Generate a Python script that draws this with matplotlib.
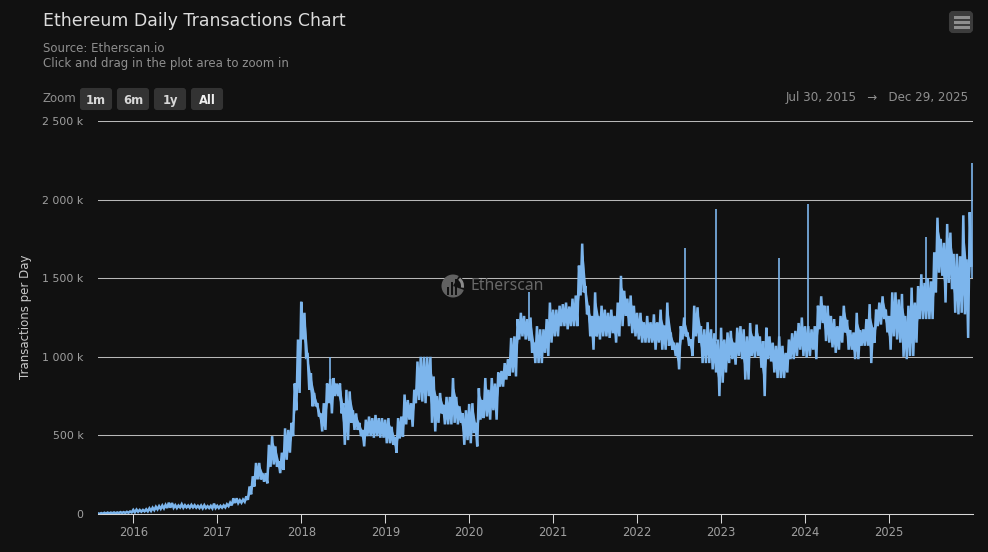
import numpy as np
import matplotlib
matplotlib.use("Agg")
import matplotlib.pyplot as plt
from matplotlib.patches import FancyBboxPatch, Circle, Wedge, Rectangle

# -- values, thousands of tx per day, low/high per fortnight --
lo_2015 = [1, 2, 3, 4, 5, 5, 6, 7, 7, 8, 10]
hi_2015 = [4, 6, 8, 9, 9, 10, 10, 12, 12, 14, 16]
lo_2016 = [11, 14, 15, 17, 17, 20, 25, 30, 33, 36, 38, 40, 40, 38, 42, 40, 42, 40, 42, 40, 38, 36, 38, 38, 36, 38]
hi_2016 = [26, 28, 26, 26, 30, 36, 40, 46, 50, 54, 58, 72, 70, 56, 54, 62, 56, 54, 58, 56, 52, 54, 56, 50, 52, 66]
lo_2017 = [38, 40, 42, 50, 55, 70, 70, 72, 78, 90, 125, 175, 220, 220, 205, 195, 300, 315, 300, 260, 280, 345, 390, 495, 660, 770]
hi_2017 = [52, 52, 55, 62, 72, 100, 100, 88, 92, 112, 175, 240, 325, 325, 260, 260, 440, 495, 430, 335, 390, 545, 535, 580, 830, 1110]
lo_2018 = [1110, 1000, 790, 685, 685, 620, 525, 535, 705, 640, 750, 750, 640, 440, 470, 580, 535, 535, 495, 430, 495, 495, 485, 495, 485, 485]
hi_2018 = [1350, 1280, 1010, 895, 770, 705, 640, 705, 830, 860, 865, 830, 830, 705, 790, 780, 660, 640, 580, 535, 600, 620, 610, 630, 610, 610]
lo_2019 = [450, 450, 440, 390, 480, 490, 570, 600, 555, 705, 725, 715, 705, 750, 580, 525, 580, 640, 570, 570, 570, 580, 570, 580, 440, 470]
hi_2019 = [600, 610, 555, 490, 610, 620, 760, 725, 705, 790, 970, 1000, 1000, 1000, 1000, 875, 750, 770, 695, 745, 745, 865, 745, 685, 640, 660]
lo_2020 = [450, 515, 430, 600, 610, 620, 600, 660, 600, 810, 810, 855, 880, 900, 875, 1110, 1130, 1110, 1110, 1025, 960, 960, 960, 1025, 1005, 1090]
hi_2020 = [700, 705, 580, 800, 725, 865, 790, 865, 830, 900, 910, 960, 985, 1120, 1130, 1240, 1280, 1260, 1240, 1250, 1090, 1195, 1175, 1175, 1240, 1345]
lo_2021 = [1130, 1130, 1195, 1195, 1175, 1195, 1195, 1195, 1390, 1410, 1270, 1130, 1045, 1130, 1110, 1130, 1130, 1120, 1150, 1090, 1130, 1195, 1260, 1195, 1150, 1130]
hi_2021 = [1300, 1300, 1325, 1335, 1345, 1320, 1370, 1390, 1580, 1720, 1450, 1325, 1260, 1410, 1260, 1325, 1300, 1280, 1300, 1260, 1345, 1515, 1420, 1370, 1390, 1325]
lo_2022 = [1110, 1090, 1090, 1090, 1090, 1045, 1090, 1045, 1045, 1070, 1045, 1005, 920, 1110, 1130, 1070, 1005, 1130, 1090, 960, 960, 960, 920, 900, 750]
hi_2022 = [1280, 1280, 1220, 1260, 1220, 1270, 1220, 1300, 1200, 1345, 1155, 1090, 1090, 1195, 1250, 1155, 1110, 1325, 1315, 1195, 1175, 1220, 1175, 1150, 1110]
lo_2023 = [835, 900, 960, 985, 950, 1005, 985, 855, 855, 1005, 995, 1005, 930, 750, 985, 970, 900, 865, 865, 865, 900, 985, 985, 1005, 1045, 1005]
hi_2023 = [1185, 1110, 1155, 1165, 1090, 1185, 1195, 1175, 1130, 1215, 1130, 1205, 1130, 1100, 1185, 1130, 1090, 1070, 1130, 1070, 1025, 1110, 1150, 1165, 1215, 1250]
lo_2024 = [995, 1005, 1045, 985, 1175, 1215, 1100, 1090, 1060, 1025, 1045, 1090, 1155, 1045, 1045, 985, 985, 1070, 1070, 1070, 960, 1090, 1195, 1205, 1240, 1155]
hi_2024 = [1195, 1195, 1175, 1195, 1325, 1385, 1325, 1325, 1260, 1240, 1195, 1260, 1325, 1235, 1170, 1155, 1280, 1170, 1175, 1240, 1335, 1185, 1300, 1345, 1385, 1300]
lo_2025 = [1045, 1130, 1110, 1090, 1000, 985, 1005, 1005, 1090, 1240, 1240, 1240, 1240, 1240, 1410, 1535, 1515, 1345, 1470, 1430, 1280, 1270, 1280, 1270, 1120, 1580]
hi_2025 = [1260, 1410, 1410, 1365, 1400, 1260, 1325, 1440, 1345, 1450, 1525, 1470, 1500, 1480, 1665, 1885, 1750, 1725, 1845, 1790, 1655, 1655, 1640, 1900, 1620, 1920]

low_years = [lo_2015, lo_2016, lo_2017, lo_2018, lo_2019, lo_2020, lo_2021, lo_2022, lo_2023, lo_2024, lo_2025]
high_years = [hi_2015, hi_2016, hi_2017, hi_2018, hi_2019, hi_2020, hi_2021, hi_2022, hi_2023, hi_2024, hi_2025]
first_years = [2015.58, 2016, 2017, 2018, 2019, 2020, 2021, 2022, 2023, 2024, 2025]
last_years = [2016, 2017, 2018, 2019, 2020, 2021, 2022, 2023, 2024, 2025, 2026]

# the one day outliers, drawn on top
spike_years = [2018.34, 2020.71, 2022.57, 2022.94, 2023.69, 2024.03, 2025.44, 2025.985]
spike_bases = [800, 1100, 1200, 1100, 1000, 1100, 1300, 1500]
spike_values = [1000, 1410, 1690, 1940, 1630, 1970, 1760, 2230]

year_ticks = [2016, 2017, 2018, 2019, 2020, 2021, 2022, 2023, 2024, 2025]
y_ticks = [0, 500, 1000, 1500, 2000, 2500]
y_labels = ["0", "500 k", "1 000 k", "1 500 k", "2 000 k", "2 500 k"]
zoom_buttons = ["1m", "6m", "1y", "All"]

BG = "#111111"
LINE = "#7cb5ec"
GRID = "#b8b8b8"
W, H = 988, 552


def zigzag():
    # walk low, high, low, high so the daily noise fills in like the original
    xs, ys = [], []
    band_x, band_lo, band_hi = [], [], []
    for lows, highs, start, end in zip(low_years, high_years, first_years, last_years):
        step = (end - start) / len(lows)
        for i, (lo, hi) in enumerate(zip(lows, highs)):
            xs += [start + i * step, start + (i + 0.5) * step]
            ys += [hi, lo]
            band_x.append(start + (i + 0.25) * step)
            band_lo.append(lo + 0.22 * (hi - lo))
            band_hi.append(hi - 0.22 * (hi - lo))
    return xs, ys, band_x, band_lo, band_hi


def main():
    plt.rcParams["font.family"] = ["DejaVu Sans"]
    fig = plt.figure(figsize=(W / 100, H / 100), dpi=100, facecolor=BG)

    # -- plot area --
    ax = fig.add_axes([98 / W, (H - 514) / H, 875 / W, 393 / H], facecolor=BG)
    xs, ys, band_x, band_lo, band_hi = zigzag()
    ax.fill_between(band_x, band_lo, band_hi, color=LINE, lw=0, zorder=3)
    ax.plot(xs, ys, color=LINE, lw=1.8, solid_joinstyle="miter", zorder=3)
    ax.vlines(spike_years, spike_bases, spike_values, color=LINE, lw=1.2, zorder=3)
    ax.set_xlim(2015.58, 2026.0)
    ax.set_ylim(0, 2500)
    ax.set_yticks(y_ticks)
    ax.set_yticklabels(y_labels)
    ax.set_xticks(year_ticks)
    ax.set_xticklabels([str(y) for y in year_ticks])
    ax.grid(axis="y", color=GRID, lw=0.75)
    ax.set_axisbelow(True)
    for side in ["top", "left", "right"]:
        ax.spines[side].set_visible(False)
    ax.spines["bottom"].set_color("#d8d8d8")
    ax.spines["bottom"].set_linewidth(0.75)
    ax.tick_params(axis="x", length=6.5, width=0.75, color="#d8d8d8", labelcolor="#a0a0a0", labelsize=8.3, pad=2.5)
    ax.tick_params(axis="y", length=0, labelcolor="#a0a0a0", labelsize=7.9, pad=10.5)

    # -- page furniture in pixel coordinates --
    over = fig.add_axes([0, 0, 1, 1], facecolor="none")
    over.set_xlim(0, W)
    over.set_ylim(H, 0)
    over.axis("off")

    over.text(43, 21, "Ethereum Daily Transactions Chart", color="#dcdcdc", fontsize=12.55, va="center")
    over.text(43, 48.5, "Source: Etherscan.io", color="#8f8f8f", fontsize=8.45, va="center")
    over.text(43, 63.5, "Click and drag in the plot area to zoom in", color="#8f8f8f", fontsize=8.45, va="center")
    over.text(42, 99, "Zoom", color="#8f8f8f", fontsize=8.45, va="center")
    over.text(25, 317, "Transactions per Day", color="#c8c8c8", fontsize=8.5, rotation=90, ha="center", va="center")
    over.text(969, 98, "Jul 30, 2015   \u2192   Dec 29, 2025", color="#8f8f8f", fontsize=8.6, ha="right", va="center")

    left_edges = [80, 117, 154, 191]
    widths = [32, 32, 32, 32]
    for label, left, width in zip(zoom_buttons, left_edges, widths):
        over.add_patch(FancyBboxPatch((left + 1, 89), width - 2, 20, boxstyle="round,pad=0,rounding_size=2",
                                      mutation_aspect=1, fc="#333333", ec="#333333", lw=1.5))
        over.text(left + width / 2, 99, label, color="#f0f0f0" if label == "All" else "#d8d8d8",
                  fontsize=8.3, ha="center", va="center_baseline", fontweight="bold")

    # menu button
    over.add_patch(FancyBboxPatch((950, 12), 22, 20, boxstyle="round,pad=0,rounding_size=3",
                                  fc="#3c3c3c", ec="#3c3c3c", lw=1.5))
    for bar_y in [16, 21, 26]:
        over.add_patch(Rectangle((954, bar_y), 16, 3, fc="#8e8e8e", ec="none"))

    # watermark
    over.add_patch(Circle((453, 286), 11.5, fc="#626262", ec="none"))
    over.add_patch(Wedge((453, 286), 12, 300, 20, fc=BG, ec="none"))
    over.add_patch(Wedge((453, 286), 11, 310, 10, width=3, fc="#8a8a8a", ec="none"))
    for bar_x, bar_top in zip([447, 451, 455], [287, 282, 279]):
        over.add_patch(Rectangle((bar_x, bar_top), 2, 295 - bar_top, fc=BG, ec="none"))
    over.text(470, 286.5, "Etherscan", family="Noto Sans", color="#686868", fontsize=11.3, va="center", fontweight="medium")

    fig.savefig("out.png", dpi=100, facecolor=BG)
    plt.close("all")


if __name__ == "__main__":
    main()
